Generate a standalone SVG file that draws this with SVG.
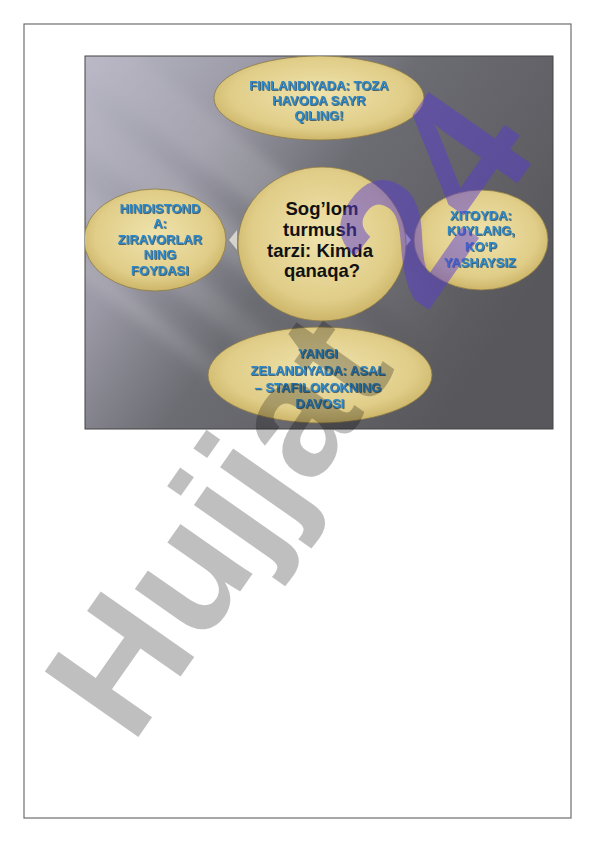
<svg xmlns="http://www.w3.org/2000/svg" width="596" height="842" viewBox="0 0 596 842">
<defs>
<linearGradient id="bg" x1="0" y1="0" x2="1" y2="0.55">
<stop offset="0" stop-color="#bab8c6"/>
<stop offset="0.3" stop-color="#9a99a5"/>
<stop offset="0.55" stop-color="#6c6c73"/>
<stop offset="1" stop-color="#58585c"/>
</linearGradient>
<linearGradient id="ray" x1="0" y1="0" x2="1" y2="0">
<stop offset="0" stop-color="#fff" stop-opacity="0"/>
<stop offset="0.5" stop-color="#fff" stop-opacity="0.14"/>
<stop offset="1" stop-color="#fff" stop-opacity="0"/>
</linearGradient>
<radialGradient id="gold" cx="0.5" cy="0.45" r="0.6">
<stop offset="0" stop-color="#efe3ad"/>
<stop offset="0.7" stop-color="#e0cd88"/>
<stop offset="1" stop-color="#c6ad5e"/>
</radialGradient>
<filter id="sh" x="-10%" y="-10%" width="120%" height="130%">
<feDropShadow dx="0.8" dy="0.8" stdDeviation="0.4" flood-color="#17384f" flood-opacity="0.9"/>
</filter>
<filter id="blur" x="-20%" y="-20%" width="140%" height="140%">
<feGaussianBlur stdDeviation="6"/>
</filter>
<clipPath id="img"><rect x="85" y="56" width="468" height="373"/></clipPath>
</defs>
<style>
.node{fill:url(#gold);stroke:#8a7a45;stroke-width:0.8}
.lbl{font-family:"Liberation Sans",Arial,sans-serif;font-weight:bold;font-size:13px;fill:#2e88c9;text-anchor:middle;filter:url(#sh)}
.ctr{font-family:"Liberation Sans",Arial,sans-serif;font-weight:bold;font-size:18.5px;fill:#111;text-anchor:middle}
.arr{fill:#f4f1e4;fill-opacity:0.7}
</style>
<rect width="596" height="842" fill="#fff"/>
<rect x="24" y="24" width="547" height="794" fill="none" stroke="#6e6e6e" stroke-width="1.2"/>
<g id="background" clip-path="url(#img)">
<rect x="85" y="56" width="468" height="373" fill="url(#bg)"/>
<g transform="rotate(38 85 56)" filter="url(#blur)">
<rect x="60" y="25" width="480" height="45" fill="url(#ray)"/>
<rect x="60" y="95" width="480" height="35" fill="url(#ray)"/>
<rect x="40" y="160" width="480" height="26" fill="url(#ray)"/>
<rect x="40" y="215" width="480" height="18" fill="url(#ray)"/>
</g>
</g>
<rect x="85" y="56" width="468" height="373" fill="none" stroke="#444" stroke-width="1"/>
<g id="connectors">
<path class="arr" d="M314,168 H330 V182 H337 L322,196 L307,182 H314 Z"/>
<path class="arr" d="M314,318 H330 V302 H337 L322,288 L307,302 H314 Z"/>
<path class="arr" d="M237,230 V250 L229,240 Z"/>
<path class="arr" d="M403,230 V250 L411,240 Z"/>
</g>
<g clip-path="url(#img)">
<g id="node-finland">
<ellipse class="node" cx="319" cy="98" rx="105" ry="42"/>
<text class="lbl" x="319" y="90">FINLANDIYADA: TOZA</text>
<text class="lbl" x="319" y="105">HAVODA SAYR</text>
<text class="lbl" x="319" y="120">QILING!</text>
</g>
<g id="node-india">
<ellipse class="node" cx="155" cy="240" rx="71" ry="51"/>
<text class="lbl" x="160" y="213">HINDISTOND</text>
<text class="lbl" x="160" y="228">A:</text>
<text class="lbl" x="160" y="244">ZIRAVORLAR</text>
<text class="lbl" x="160" y="259">NING</text>
<text class="lbl" x="160" y="275">FOYDASI</text>
</g>
<g id="node-center">
<ellipse class="node" cx="322" cy="244" rx="84" ry="77"/>
<text class="ctr" x="322" y="215">Sog’lom</text>
<text class="ctr" x="320" y="236">turmush</text>
<text class="ctr" x="320" y="257">tarzi: Kimda</text>
<text class="ctr" x="322" y="277">qanaqa?</text>
</g>
<g id="node-china">
<ellipse class="node" cx="481" cy="240" rx="67" ry="50"/>
<text class="lbl" x="481" y="220">XITOYDA:</text>
<text class="lbl" x="481" y="235">KUYLANG,</text>
<text class="lbl" x="481" y="251">KO‘P</text>
<text class="lbl" x="480" y="267">YASHAYSIZ</text>
</g>
<g id="node-nz">
<ellipse class="node" cx="320" cy="375" rx="112" ry="48"/>
<text class="lbl" x="318" y="358">YANGI</text>
<text class="lbl" x="318" y="375">ZELANDIYADA: ASAL</text>
<text class="lbl" x="318" y="392">– STAFILOKOKNING</text>
<text class="lbl" x="320" y="408">DAVOSI</text>
</g>
</g>
<g id="watermark" font-family="Liberation Sans, Arial, sans-serif" font-weight="bold" font-size="166">
<text transform="translate(132,746) rotate(-55)"><tspan fill="#000" fill-opacity="0.25">Hujjat</tspan><tspan dx="60" dy="-7" font-size="182" fill="#5a3cd0" fill-opacity="0.5">24</tspan></text>
</g>
</svg>
